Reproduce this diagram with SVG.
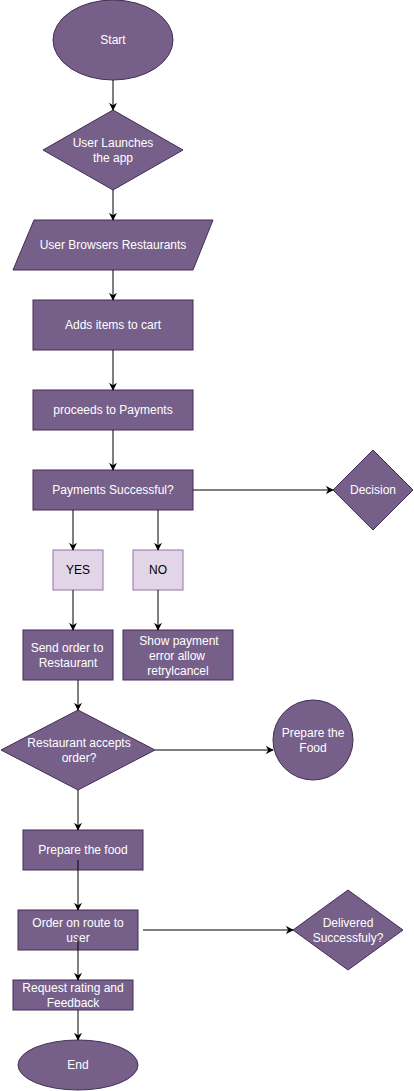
<svg xmlns="http://www.w3.org/2000/svg" width="414" height="1091" viewBox="0 0 414 1091">
<style>
.n{fill:#76608a;stroke:#432d57;stroke-width:1}
.l{fill:#e1d5e7;stroke:#9673a6;stroke-width:1}
.t{font-family:"Liberation Sans",Arial,sans-serif;font-size:12px;fill:#ffffff;text-anchor:middle;dominant-baseline:central}
.d{fill:#000000}
.c{fill:none;stroke:#000000;stroke-width:1}
</style>
<defs>
<marker id="a" viewBox="0 0 10 10" refX="9" refY="5" markerWidth="8" markerHeight="8" markerUnits="userSpaceOnUse" orient="auto">
<path d="M0,0 L10,5 L0,10 L3,5 Z" fill="#000"/>
</marker>
</defs>
<rect width="414" height="1091" fill="#ffffff"/>
<g id="start"><ellipse class="n" cx="113" cy="40" rx="60" ry="40"/><text class="t" x="113" y="40">Start</text></g>
<g id="launch"><polygon class="n" points="113,110 183,150 113,190 43,150"/><text class="t" x="113" y="143">User Launches</text><text class="t" x="113" y="158">the app</text></g>
<g id="browse"><polygon class="n" points="34,220 213,220 193,270 13,270"/><text class="t" x="113" y="245">User Browsers Restaurants</text></g>
<g id="cart"><rect class="n" x="33" y="300" width="160" height="50"/><text class="t" x="113" y="325">Adds items to cart</text></g>
<g id="pay"><rect class="n" x="33" y="390" width="160" height="40"/><text class="t" x="113" y="410">proceeds to Payments</text></g>
<g id="paysuccess"><rect class="n" x="33" y="470" width="160" height="40"/><text class="t" x="113" y="490">Payments Successful?</text></g>
<g id="decision"><polygon class="n" points="373,450 413,490 373,530 333,490"/><text class="t" x="373" y="490">Decision</text></g>
<g id="yes"><rect class="l" x="53" y="550" width="50" height="40"/><text class="t d" x="78" y="570">YES</text></g>
<g id="no"><rect class="l" x="133" y="550" width="50" height="40"/><text class="t d" x="158" y="570">NO</text></g>
<g id="send"><rect class="n" x="23" y="630" width="90" height="50"/><text class="t" x="67" y="648">Send order to</text><text class="t" x="68" y="663">Restaurant</text></g>
<g id="error"><rect class="n" x="123" y="630" width="110" height="50"/><text class="t" x="179" y="641">Show payment</text><text class="t" x="177" y="656">error allow</text><text class="t" x="178" y="671">retrylcancel</text></g>
<g id="accepts"><polygon class="n" points="78,710 155,750 78,790 1,750"/><text class="t" x="79" y="743">Restaurant accepts</text><text class="t" x="79" y="758">order?</text></g>
<g id="preparecircle"><circle class="n" cx="313" cy="740" r="40"/><text class="t" x="313" y="733">Prepare the</text><text class="t" x="313" y="748">Food</text></g>
<g id="preparefood"><rect class="n" x="23" y="830" width="120" height="40"/><text class="t" x="83" y="850">Prepare the food</text></g>
<g id="route"><rect class="n" x="18" y="910" width="120" height="40"/><text class="t" x="78" y="923">Order on route to</text><text class="t" x="78" y="938">user</text></g>
<g id="delivered"><polygon class="n" points="348,890 403,930 348,970 293,930"/><text class="t" x="348" y="923">Delivered</text><text class="t" x="348" y="938">Successfuly?</text></g>
<g id="rating"><rect class="n" x="13" y="980" width="120" height="30"/><text class="t" x="73" y="988">Request rating and</text><text class="t" x="73" y="1003">Feedback</text></g>
<g id="end"><ellipse class="n" cx="78" cy="1065" rx="60" ry="25"/><text class="t" x="78" y="1065">End</text></g>
<g id="connectors">
<path class="c" d="M113,80 L113,110" marker-end="url(#a)"/>
<path class="c" d="M113,190 L113,220" marker-end="url(#a)"/>
<path class="c" d="M113,270 L113,300" marker-end="url(#a)"/>
<path class="c" d="M113,350 L113,390" marker-end="url(#a)"/>
<path class="c" d="M113,430 L113,470" marker-end="url(#a)"/>
<path class="c" d="M193,490 L333,490" marker-end="url(#a)"/>
<path class="c" d="M73,510 L73,550" marker-end="url(#a)"/>
<path class="c" d="M158,510 L158,550" marker-end="url(#a)"/>
<path class="c" d="M73,590 L73,630" marker-end="url(#a)"/>
<path class="c" d="M158,590 L158,630" marker-end="url(#a)"/>
<path class="c" d="M78,680 L78,710" marker-end="url(#a)"/>
<path class="c" d="M155,750 L273,750" marker-end="url(#a)"/>
<path class="c" d="M78,790 L78,830" marker-end="url(#a)"/>
<path class="c" d="M78,860 L78,910" marker-end="url(#a)"/>
<path class="c" d="M143,930 L293,930" marker-end="url(#a)"/>
<path class="c" d="M78,938 L78,980" marker-end="url(#a)"/>
<path class="c" d="M78,1010 L78,1040" marker-end="url(#a)"/>
</g>
</svg>
